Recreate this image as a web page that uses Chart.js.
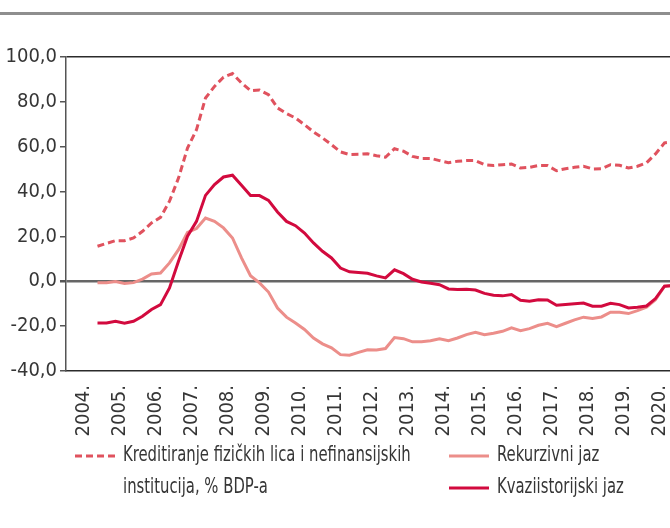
<!DOCTYPE html>
<html>
<head>
<meta charset="utf-8">
<script src="https://cdn.jsdelivr.net/npm/chart.js@4.4.1/dist/chart.umd.min.js"></script>
<style>
  html, body { margin: 0; padding: 0; background: #fff; overflow: hidden; }
  #wrap { width: 680px; height: 528px; }
</style>
</head>
<body>
<div id="wrap"><canvas id="graf" width="680" height="528"></canvas></div>
<script>
// kvartali 2004Q1 - 2020Q4
var godine = [2004, 2005, 2006, 2007, 2008, 2009, 2010, 2011, 2012, 2013, 2014, 2015, 2016, 2017, 2018, 2019, 2020];
var kvartali = [];
godine.forEach(function (g) {
  for (var q = 1; q <= 4; q++) kvartali.push(g + 'Q' + q);
});

var kreditiranje = [null, null, null,
  15.6, 16.9, 18.1, 18.1, 19.3, 22.3, 26.0, 28.5, 35.7, 46.0, 59.4, 67.6, 81.7, 86.9, 91.0,
  92.6, 88.4, 85.0, 85.3, 83.2, 77.3, 74.8, 72.8, 69.8, 66.6, 63.9, 60.9, 57.7, 56.5, 56.6,
  56.9, 56.0, 55.3, 59.1, 58.0, 55.7, 54.8, 54.8, 53.8, 52.9, 53.5, 53.8, 53.8, 52.0, 51.6,
  52.0, 52.3, 50.5, 50.8, 51.6, 51.6, 49.3, 50.2, 50.8, 51.3, 50.1, 50.2, 52.0, 51.7, 50.5,
  51.3, 52.8, 56.8, 61.7, 62.2];

var rekurzivni = [null, null, null,
  -0.6, -0.6, -0.1, -1.0, -0.6, 1.0, 3.3, 3.7, 8.2, 14.1, 21.8, 23.5, 28.2, 26.7, 23.8,
  19.3, 10.4, 2.5, -0.7, -4.8, -11.9, -16.0, -18.6, -21.5, -25.3, -27.9, -29.7, -32.7, -33.0, -31.7,
  -30.5, -30.6, -30.0, -25.1, -25.6, -27.0, -27.0, -26.5, -25.6, -26.5, -25.3, -23.8, -22.7, -23.8, -23.2,
  -22.3, -20.8, -22.0, -21.1, -19.6, -18.7, -20.2, -18.7, -17.2, -16.0, -16.6, -15.9, -13.8, -13.8, -14.4,
  -13.1, -11.6, -8.2, -2.2, -1.9];

var kvaziistorijski = [null, null, null,
  -18.6, -18.6, -17.8, -18.7, -17.8, -15.6, -12.6, -10.4, -3.0, 8.9, 20.1, 26.7, 38.3, 43.1, 46.5,
  47.3, 42.8, 38.2, 38.2, 36.1, 30.9, 26.7, 24.8, 21.5, 17.1, 13.4, 10.4, 5.9, 4.2, 3.9,
  3.6, 2.4, 1.5, 5.1, 3.4, 0.9, -0.3, -0.9, -1.5, -3.4, -3.7, -3.6, -3.9, -5.4, -6.2,
  -6.5, -5.9, -8.5, -8.9, -8.2, -8.3, -10.7, -10.3, -10.0, -9.7, -11.1, -11.1, -9.8, -10.4, -11.9,
  -11.6, -11.0, -7.7, -2.2, -1.9];

var nazivi = [
  ['Kreditiranje fizičkih lica i nefinansijskih', 'institucija, % BDP-a'],
  ['Rekurzivni jaz'],
  ['Kvaziistorijski jaz']
];

var FONT = "'Liberation Sans Narrow', 'DejaVu Sans Condensed', 'Noto Sans', sans-serif";
var TEKST = '#363636';

// siva linija na vrhu i legenda ispod grafika
var dodaci = {
  id: 'dodaci',
  beforeDraw: function (chart) {
    var c = chart.ctx;
    c.save();
    c.fillStyle = '#8e8e8e';
    c.fillRect(0, 12, chart.width, 3);
    c.restore();
  },
  afterDraw: function (chart) {
    var c = chart.ctx;
    var mjesta = [
      { x: 75, y: 456, tx: 123 },
      { x: 449, y: 456, tx: 497 },
      { x: 449, y: 488, tx: 497 }
    ];
    c.save();
    c.font = '22px ' + FONT;
    c.fillStyle = TEKST;
    c.textBaseline = 'middle';
    chart.data.datasets.forEach(function (ds, i) {
      var m = mjesta[i];
      c.beginPath();
      c.strokeStyle = ds.borderColor;
      c.lineWidth = 3;
      c.setLineDash(ds.borderDash || []);
      c.moveTo(m.x, m.y);
      c.lineTo(m.x + 40, m.y);
      c.stroke();
      nazivi[i].forEach(function (red, j) {
        // uzi font kao u originalu
        c.save();
        c.translate(m.tx, m.y - 1 + j * 32);
        c.scale(0.75, 1);
        c.fillText(red, 0, 0);
        c.restore();
      });
    });
    c.restore();
  }
};

var config = {
  type: 'line',
  data: {
    labels: kvartali,
    datasets: [
      {
        label: nazivi[0].join(' '),
        data: kreditiranje,
        borderColor: 'rgb(224, 82, 94)',
        borderDash: [7, 4],
        order: 3
      },
      {
        label: nazivi[1][0],
        data: rekurzivni,
        borderColor: 'rgb(236, 142, 138)',
        order: 2
      },
      {
        label: nazivi[2][0],
        data: kvaziistorijski,
        borderColor: 'rgb(210, 10, 62)',
        order: 1
      }
    ]
  },
  options: {
    responsive: false,
    animation: false,
    elements: {
      line: { borderWidth: 3, tension: 0, borderCapStyle: 'butt' },
      point: { radius: 0 }
    },
    layout: { padding: { top: 57, left: 0, right: 2, bottom: 87 } },
    plugins: {
      legend: { display: false },
      tooltip: { enabled: false }
    },
    scales: {
      x: {
        offset: true,
        grid: { display: false },
        border: { display: true, color: '#2b2b2b', width: 1.5 },
        afterFit: function (s) {
          s.height = 70;
          s.paddingLeft = 0;
          s.paddingRight = 0;
        },
        ticks: {
          autoSkip: false,
          minRotation: 90,
          maxRotation: 90,
          padding: 6,
          labelOffset: 13.5,
          color: TEKST,
          font: { family: FONT, size: 20 },
          callback: function (v, i) {
            return i % 4 === 0 ? kvartali[i].slice(0, 4) + '.' : '';
          }
        }
      },
      y: {
        min: -40,
        max: 100,
        afterFit: function (s) { s.width = 66; },
        border: { display: true, color: '#555555', width: 1.5 },
        grid: {
          tickLength: 6,
          tickColor: '#555555',
          color: function (ctx) {
            if (ctx.tick.value === 0) return '#666666';
            if (ctx.tick.value === 100) return '#2b2b2b';
            return 'rgba(0,0,0,0)';
          },
          lineWidth: function (ctx) {
            return ctx.tick.value === 0 ? 2.5 : 1.5;
          }
        },
        ticks: {
          stepSize: 20,
          padding: 3,
          color: TEKST,
          font: { family: FONT, size: 20 },
          callback: function (v) { return v.toFixed(1).replace('.', ','); }
        }
      }
    }
  },
  plugins: [dodaci]
};

var graf = new Chart(document.getElementById('graf'), config);
</script>
</body>
</html>
